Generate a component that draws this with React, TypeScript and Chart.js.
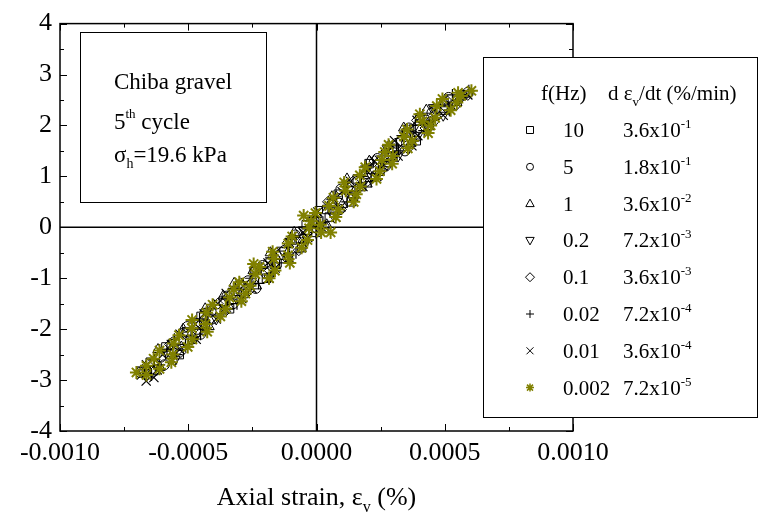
import React, { useEffect, useRef } from 'react';
import { Chart, registerables } from 'chart.js';
Chart.register(...registerables);

const FONT = '"Liberation Serif", "Times New Roman", serif';

// ---------- axes ----------
const X_MIN = -0.001;
const X_MAX = 0.001;
const X_STEP = 0.0005;
const Y_MIN = -4;
const Y_MAX = 4;
const Y_STEP = 1;

// ---------- legend text ----------
const freqLabels = ['10', '5', '1', '0.2', '0.1', '0.02', '0.01', '0.002'];
const rateMantissa = ['3.6', '1.8', '3.6', '7.2', '3.6', '7.2', '3.6', '7.2'];
const rateExponent = ['-1', '-1', '-2', '-3', '-3', '-4', '-4', '-5'];

// ---------- data: axial strain (%) and stress values ----------
const x10 = [-6.31e-4, -5.35e-4, -4.84e-4, -4.33e-4, -3.39e-4, -2.82e-4, -1.95e-4, -1.54e-4, -0.58e-4, -0.02e-4, 0.5e-4, 1.35e-4, 1.76e-4, 2.47e-4, 2.98e-4, 3.89e-4, 4.4e-4, 4.98e-4, 5.7e-4,
  4.97e-4, 4.03e-4, 3.5e-4, 3.01e-4, 2.05e-4, 1.59e-4, 0.85e-4, 0.4e-4, -0.4e-4, -0.95e-4, -1.41e-4, -2.42e-4, -2.99e-4, -3.63e-4, -4.5e-4, -5.06e-4, -5.87e-4, -6.48e-4];
const y10 = [-2.8, -2.5, -2.2, -1.9, -1.6, -1.3, -1.0, -0.7, -0.4, -0.1, 0.2, 0.5, 0.8, 1.1, 1.4, 1.7, 2.0, 2.3, 2.6,
  2.45, 2.15, 1.85, 1.55, 1.25, 0.95, 0.65, 0.35, 0.05, -0.25, -0.55, -0.85, -1.15, -1.45, -1.75, -2.05, -2.35, -2.65];

const x5 = [-5.93e-4, -5.43e-4, -4.52e-4, -4.06e-4, -3.25e-4, -2.37e-4, -1.98e-4, -1.12e-4, -0.51e-4, 0.3e-4, 0.65e-4, 1.45e-4, 1.93e-4, 2.69e-4, 3.45e-4, 3.8e-4, 4.57e-4, 5.39e-4, 5.9e-4,
  5.15e-4, 4.5e-4, 3.6e-4, 3.13e-4, 2.37e-4, 1.96e-4, 0.95e-4, 0.6e-4, -0.1e-4, -0.83e-4, -1.24e-4, -2.1e-4, -2.67e-4, -3.49e-4, -4.11e-4, -5.04e-4, -5.55e-4, -6.07e-4, -6.87e-4];
const y5 = [-2.7, -2.4, -2.1, -1.8, -1.5, -1.2, -0.9, -0.6, -0.3, 0.0, 0.3, 0.6, 0.9, 1.2, 1.5, 1.8, 2.1, 2.4, 2.65,
  2.55, 2.25, 1.95, 1.65, 1.35, 1.05, 0.75, 0.45, 0.15, -0.15, -0.45, -0.75, -1.05, -1.35, -1.65, -1.95, -2.25, -2.55, -2.85];

const x1 = [-6.1e-4, -5.27e-4, -4.19e-4, -3.42e-4, -2.34e-4, -1.6e-4, -0.57e-4, 0.4e-4, 1.0e-4, 1.97e-4, 2.75e-4, 3.68e-4, 4.36e-4, 5.47e-4,
  4.28e-4, 3.4e-4, 2.82e-4, 2.06e-4, 1.19e-4, 0.6e-4, 0.0e-4, -0.87e-4, -1.8e-4, -2.47e-4, -3.21e-4, -3.64e-4, -4.34e-4, -5.2e-4, -6.18e-4];
const y1 = [-2.75, -2.35, -1.95, -1.55, -1.15, -0.75, -0.35, 0.05, 0.45, 0.85, 1.25, 1.65, 2.05, 2.45,
  2.3, 1.95, 1.6, 1.3, 0.95, 0.6, 0.25, -0.1, -0.5, -0.85, -1.1, -1.35, -1.6, -2.0, -2.4];

const x02 = [-5.52e-4, -4.89e-4, -3.91e-4, -3.11e-4, -1.85e-4, -1.12e-4, -0.39e-4, 0.7e-4, 1.4e-4, 2.15e-4, 3.18e-4, 3.95e-4, 4.94e-4, 5.65e-4,
  4.56e-4, 3.8e-4, 2.76e-4, 1.98e-4, 1.25e-4, 0.15e-4, -0.51e-4, -1.34e-4, -2.37e-4, -3.15e-4, -4.26e-4, -5.11e-4, -5.84e-4, -6.81e-4];
const y02 = [-2.6, -2.2, -1.8, -1.4, -1.0, -0.6, -0.2, 0.2, 0.6, 1.0, 1.4, 1.8, 2.2, 2.55,
  2.35, 1.95, 1.55, 1.15, 0.75, 0.35, -0.05, -0.45, -0.85, -1.25, -1.65, -2.05, -2.45, -2.8];

const x01 = [-6.37e-4, -5.29e-4, -4.61e-4, -3.56e-4, -2.65e-4, -1.82e-4, -0.69e-4, 0.04e-4, 0.95e-4, 1.6e-4, 2.58e-4, 3.56e-4, 4.25e-4, 5.06e-4, 5.9e-4,
  5.05e-4, 3.92e-4, 3.29e-4, 2.26e-4, 1.43e-4, 0.45e-4, -0.1e-4, -1.11e-4, -1.89e-4, -2.96e-4, -3.85e-4, -4.63e-4, -5.71e-4, -6.58e-4];
const y01 = [-2.85, -2.45, -2.05, -1.65, -1.25, -0.85, -0.45, -0.05, 0.35, 0.75, 1.15, 1.55, 1.95, 2.35, 2.6,
  2.5, 2.1, 1.7, 1.3, 0.9, 0.5, 0.1, -0.3, -0.7, -1.1, -1.5, -1.9, -2.3, -2.7];

const x002 = [-6.43e-4, -6.13e-4, -5.45e-4, -5.11e-4, -4.52e-4, -4.28e-4, -3.73e-4, -3.1e-4, -2.92e-4, -2.26e-4, -1.73e-4, -1.44e-4, -0.8e-4, -0.51e-4, -0.02e-4, 0.25e-4, 0.85e-4, 1.2e-4, 1.5e-4, 2.13e-4, 2.42e-4, 2.91e-4, 3.2e-4, 3.84e-4, 4.2e-4, 4.52e-4, 5.18e-4, 5.55e-4, 5.94e-4,
  5.3e-4, 4.84e-4, 4.14e-4, 3.85e-4, 3.35e-4, 3.12e-4, 2.53e-4, 1.94e-4, 1.75e-4, 1.21e-4, 0.75e-4, 0.45e-4, -0.1e-4, -0.3e-4, -0.84e-4, -1.13e-4, -1.77e-4, -2.16e-4, -2.55e-4, -3.22e-4, -3.51e-4, -4.14e-4, -4.56e-4, -4.85e-4, -5.54e-4, -5.83e-4, -6.32e-4, -6.71e-4];
const y002 = [-2.9, -2.7, -2.5, -2.3, -2.1, -1.9, -1.7, -1.5, -1.3, -1.1, -0.9, -0.7, -0.5, -0.3, -0.1, 0.1, 0.3, 0.5, 0.7, 0.9, 1.1, 1.3, 1.5, 1.7, 1.9, 2.1, 2.3, 2.5, 2.68,
  2.6, 2.4, 2.2, 2.0, 1.8, 1.6, 1.4, 1.2, 1.0, 0.8, 0.6, 0.4, 0.2, 0.0, -0.2, -0.4, -0.6, -0.8, -1.0, -1.2, -1.4, -1.6, -1.8, -2.0, -2.2, -2.4, -2.6, -2.8];

const x001 = [-6.64e-4, -6.34e-4, -6.21e-4, -5.62e-4, -5.33e-4, -4.69e-4, -4.4e-4, -3.91e-4, -3.59e-4, -2.91e-4, -2.52e-4, -1.85e-4, -1.61e-4, -1.07e-4, -0.58e-4, -0.34e-4, 0.2e-4, 0.75e-4, 0.95e-4, 1.45e-4, 1.81e-4, 2.35e-4, 2.59e-4, 3.18e-4, 3.72e-4, 3.95e-4, 4.4e-4, 4.94e-4, 5.24e-4, 5.9e-4,
  4.95e-4, 4.58e-4, 3.92e-4, 3.6e-4, 3.04e-4, 2.8e-4, 2.26e-4, 1.97e-4, 1.33e-4, 1.0e-4, 0.65e-4, 0.05e-4, -0.25e-4, -0.52e-4, -1.06e-4, -1.6e-4, -1.89e-4, -2.43e-4, -2.76e-4, -3.52e-4, -3.85e-4, -4.38e-4, -4.73e-4, -5.32e-4, -5.66e-4, -6.0e-4, -6.63e-4, -6.83e-4];
const y001 = [-3.02, -2.95, -2.8, -2.6, -2.4, -2.2, -2.0, -1.8, -1.6, -1.4, -1.2, -1.0, -0.8, -0.6, -0.4, -0.2, 0.0, 0.2, 0.4, 0.6, 0.8, 1.0, 1.2, 1.4, 1.6, 1.8, 2.0, 2.2, 2.4, 2.6,
  2.5, 2.3, 2.1, 1.9, 1.7, 1.5, 1.3, 1.1, 0.9, 0.7, 0.5, 0.3, 0.1, -0.1, -0.3, -0.5, -0.7, -0.9, -1.1, -1.3, -1.5, -1.7, -1.9, -2.1, -2.3, -2.5, -2.7, -2.9];

const x0002 = [-6.63e-4, -6.12e-4, -5.66e-4, -5.6e-4, -5.02e-4, -4.84e-4, -4.26e-4, -4.33e-4, -3.75e-4, -3.54e-4, -2.93e-4, -2.77e-4, -2.59e-4, -1.85e-4, -1.62e-4, -1.04e-4, -1.11e-4, -0.58e-4, -0.35e-4, 0.18e-4, 0.15e-4, 0.75e-4, 0.85e-4, 1.45e-4, 1.55e-4, 1.71e-4, 2.34e-4, 2.47e-4, 2.95e-4, 2.98e-4, 3.56e-4, 3.74e-4, 4.35e-4, 4.45e-4, 4.63e-4, 5.23e-4, 5.47e-4, 5.64e-4, 6.04e-4,
  5.52e-4, 4.91e-4, 4.69e-4, 4.03e-4, 4.13e-4, 3.53e-4, 3.41e-4, 2.81e-4, 2.66e-4, 2.55e-4, 1.9e-4, 1.69e-4, 1.08e-4, 1.14e-4, 0.66e-4, 0.49e-4, -0.04e-4, -0.21e-4, -0.29e-4, -0.95e-4, -1.1e-4, -1.71e-4, -1.66e-4, -2.22e-4, -2.38e-4, -3.01e-4, -3.23e-4, -3.39e-4, -4.05e-4, -4.29e-4, -4.85e-4, -4.86e-4, -5.36e-4, -5.57e-4, -6.12e-4, -6.35e-4, -6.63e-4, -7.02e-4,
  -0.5e-4, 0.55e-4, -2.45e-4];
const y0002 = [-2.9, -2.78, -2.65, -2.5, -2.35, -2.2, -2.05, -1.9, -1.75, -1.6, -1.45, -1.3, -1.15, -1.0, -0.85, -0.7, -0.55, -0.4, -0.25, -0.1, 0.05, 0.2, 0.35, 0.5, 0.65, 0.8, 0.95, 1.1, 1.25, 1.4, 1.55, 1.7, 1.85, 2.0, 2.15, 2.3, 2.45, 2.58, 2.68,
  2.64, 2.52, 2.38, 2.22, 2.08, 1.92, 1.78, 1.62, 1.48, 1.32, 1.18, 1.02, 0.88, 0.72, 0.58, 0.42, 0.28, 0.12, -0.02, -0.18, -0.32, -0.48, -0.62, -0.78, -0.92, -1.08, -1.22, -1.38, -1.52, -1.68, -1.82, -1.98, -2.12, -2.28, -2.42, -2.58, -2.72, -2.85,
  0.23, -0.1, -0.72];

const seriesX = [x10, x5, x1, x02, x01, x002, x001, x0002];
const seriesY = [y10, y5, y1, y02, y01, y002, y001, y0002];

// ---------- styles ----------
const OLIVE = '#808000';
const pointStyles = ['rect', 'circle', 'triangle', 'triangle', 'rectRot', 'cross', 'crossRot', 'star'];
const pointRotations = [0, 0, 0, 180, 0, 0, 0, 0];
const pointRadii = [6, 5, 6, 6, 5.5, 6, 6.5, 6.5];
const pointWidths = [1, 1, 1, 1, 1, 1.2, 1.2, 2];
const pointColors = ['#000', '#000', '#000', '#000', '#000', '#000', '#000', OLIVE];
const legendMarkers = ['square', 'circle', 'tri', 'tridown', 'diamond', 'plus', 'x', 'star'];

function drawMarker(ctx: CanvasRenderingContext2D, kind: string, x: number, y: number, color: string) {
  ctx.save();
  ctx.strokeStyle = color;
  ctx.lineWidth = 1;
  ctx.beginPath();
  const r = 3.5;
  switch (kind) {
    case 'square':
      ctx.rect(x - r, y - r, 2 * r, 2 * r);
      break;
    case 'circle':
      ctx.arc(x, y, r, 0, Math.PI * 2);
      break;
    case 'tri':
      ctx.moveTo(x, y - 4.5); ctx.lineTo(x + 4.2, y + 3); ctx.lineTo(x - 4.2, y + 3); ctx.closePath();
      break;
    case 'tridown':
      ctx.moveTo(x, y + 4.5); ctx.lineTo(x + 4.2, y - 3); ctx.lineTo(x - 4.2, y - 3); ctx.closePath();
      break;
    case 'diamond':
      ctx.moveTo(x, y - 4.5); ctx.lineTo(x + 4.5, y); ctx.lineTo(x, y + 4.5); ctx.lineTo(x - 4.5, y); ctx.closePath();
      break;
    case 'plus':
      ctx.moveTo(x - 4, y); ctx.lineTo(x + 4, y); ctx.moveTo(x, y - 4); ctx.lineTo(x, y + 4);
      break;
    case 'x':
      ctx.moveTo(x - r, y - r); ctx.lineTo(x + r, y + r); ctx.moveTo(x + r, y - r); ctx.lineTo(x - r, y + r);
      break;
    case 'star':
      ctx.moveTo(x - 4, y); ctx.lineTo(x + 4, y); ctx.moveTo(x, y - 4); ctx.lineTo(x, y + 4);
      ctx.moveTo(x - 3, y - 3); ctx.lineTo(x + 3, y + 3); ctx.moveTo(x + 3, y - 3); ctx.lineTo(x - 3, y + 3);
      ctx.lineWidth = 1.5;
      break;
  }
  ctx.stroke();
  ctx.restore();
}

type Piece = { t: string; size: number; dy?: number };
function drawPieces(ctx: CanvasRenderingContext2D, pieces: Piece[], x: number, baseline: number, align: 'left' | 'center' = 'left') {
  ctx.save();
  ctx.fillStyle = '#000';
  ctx.textBaseline = 'alphabetic';
  ctx.textAlign = 'left';
  let total = 0;
  for (const p of pieces) { ctx.font = `${p.size}px ${FONT}`; total += ctx.measureText(p.t).width; }
  let cx = align === 'center' ? x - total / 2 : x;
  for (const p of pieces) {
    ctx.font = `${p.size}px ${FONT}`;
    ctx.fillText(p.t, cx, baseline + (p.dy || 0));
    cx += ctx.measureText(p.t).width;
  }
  ctx.restore();
}

const overlayPlugin = {
  id: 'overlay',
  beforeDatasetsDraw(chart: any) {
    const { ctx, chartArea: a, scales } = chart;
    const x0 = scales.x.getPixelForValue(0);
    const y0 = scales.y.getPixelForValue(0);
    ctx.save();
    ctx.strokeStyle = '#000';
    ctx.lineWidth = 1.5;
    ctx.beginPath();
    ctx.moveTo(x0, a.top); ctx.lineTo(x0, a.bottom);
    ctx.moveTo(a.left, y0); ctx.lineTo(a.right, y0);
    ctx.stroke();
    ctx.restore();
  },
  afterDatasetsDraw(chart: any) {
    const { ctx, chartArea: a, scales } = chart;
    const xs = scales.x, ys = scales.y;
    ctx.save();
    ctx.strokeStyle = '#000';
    ctx.lineWidth = 1.5;
    ctx.strokeRect(a.left, a.top, a.right - a.left, a.bottom - a.top);
    const xv: number[] = xs.ticks.map((t: any) => t.value);
    const yv: number[] = ys.ticks.map((t: any) => t.value);
    ctx.lineWidth = 1;
    ctx.beginPath();
    const xticks: [number, number][] = [];
    xv.forEach((v, i) => {
      xticks.push([v, 7]);
      if (i < xv.length - 1) xticks.push([(v + xv[i + 1]) / 2, 4]);
    });
    xticks.forEach(([v, len]) => {
      const px = Math.round(xs.getPixelForValue(v)) + 0.5;
      ctx.moveTo(px, a.bottom); ctx.lineTo(px, a.bottom - len);
      ctx.moveTo(px, a.top); ctx.lineTo(px, a.top + len);
    });
    const yticks: [number, number][] = [];
    yv.forEach((v, i) => {
      yticks.push([v, 7]);
      if (i < yv.length - 1) yticks.push([(v + yv[i + 1]) / 2, 4]);
    });
    yticks.forEach(([v, len]) => {
      const py = Math.round(ys.getPixelForValue(v)) + 0.5;
      ctx.moveTo(a.left, py); ctx.lineTo(a.left + len, py);
      ctx.moveTo(a.right, py); ctx.lineTo(a.right - len, py);
    });
    ctx.stroke();

    // annotation box
    ctx.fillStyle = '#fff';
    ctx.fillRect(80, 32, 186, 170);
    ctx.strokeStyle = '#000';
    ctx.lineWidth = 1;
    ctx.strokeRect(80.5, 32.5, 186, 170);
    drawPieces(ctx, [{ t: 'Chiba gravel', size: 23 }], 114, 89);
    drawPieces(ctx, [{ t: '5', size: 23 }, { t: 'th', size: 13, dy: -11 }, { t: ' cycle', size: 23 }], 114, 129);
    drawPieces(ctx, [{ t: 'σ', size: 23 }, { t: 'h', size: 14, dy: 6 }, { t: '=19.6 kPa', size: 23 }], 114, 162);

    // legend box
    ctx.fillStyle = '#fff';
    ctx.fillRect(483, 57, 274, 360);
    ctx.strokeRect(483.5, 57.5, 274, 360);
    drawPieces(ctx, [{ t: 'f(Hz)', size: 21 }], 541, 100);
    drawPieces(ctx, [{ t: 'd ε', size: 21 }, { t: 'v', size: 13, dy: 6 }, { t: '/dt (%/min)', size: 21 }], 608, 100);
    for (let i = 0; i < freqLabels.length; i++) {
      const base = 137 + i * 36.8;
      drawMarker(ctx, legendMarkers[i], 530, base - 7, pointColors[i]);
      drawPieces(ctx, [{ t: freqLabels[i], size: 21 }], 563, base);
      drawPieces(ctx, [{ t: rateMantissa[i] + 'x10', size: 21 }, { t: rateExponent[i], size: 13, dy: -9 }], 623, base);
    }

    // x axis title
    drawPieces(ctx, [{ t: 'Axial strain, ε', size: 26 }, { t: 'v', size: 16, dy: 7 }, { t: ' (%)', size: 26 }], (a.left + a.right) / 2, 505, 'center');
    ctx.restore();
  },
};

export default function App() {
  const ref = useRef<HTMLCanvasElement>(null);
  useEffect(() => {
    document.body.style.margin = '0';
    const datasets = seriesX.map((xsArr, i) => ({
      label: freqLabels[i] + ' Hz',
      data: xsArr.map((xv, j) => ({ x: xv, y: seriesY[i][j] })),
      showLine: false,
      pointStyle: pointStyles[i] as any,
      rotation: pointRotations[i],
      pointRadius: pointRadii[i],
      pointBorderColor: pointColors[i],
      pointBackgroundColor: 'rgba(0,0,0,0)',
      pointBorderWidth: pointWidths[i],
      borderColor: pointColors[i],
      order: i === 7 ? -1 : 0,
    }));
    const chart = new Chart(ref.current as HTMLCanvasElement, {
      type: 'scatter',
      data: { datasets },
      plugins: [overlayPlugin],
      options: {
        animation: false,
        responsive: false,
        devicePixelRatio: 1,
        layout: { padding: { top: 20, right: 187, left: 0, bottom: 0 } },
        plugins: { legend: { display: false }, tooltip: { enabled: false } },
        scales: {
          x: {
            type: 'linear',
            min: X_MIN,
            max: X_MAX,
            grid: { display: false, drawTicks: false },
            border: { display: false },
            ticks: {
              stepSize: X_STEP,
              color: '#000',
              padding: 7,
              font: { family: FONT, size: 26 },
              callback: (v: any) => (Math.abs(Number(v)) < 1e-12 ? '0.0000' : Number(v).toFixed(4)),
            },
            afterFit: (s: any) => { s.height = 81; },
          },
          y: {
            type: 'linear',
            min: Y_MIN,
            max: Y_MAX,
            grid: { display: false, drawTicks: false },
            border: { display: false },
            ticks: {
              stepSize: Y_STEP,
              color: '#000',
              padding: 8,
              font: { family: FONT, size: 26 },
            },
            afterFit: (s: any) => { s.width = 60; },
          },
        },
      },
    });
    return () => chart.destroy();
  }, []);
  return (
    <div style={{ position: 'absolute', left: 0, top: 0, width: 760, height: 512, background: '#fff' }}>
      <canvas ref={ref} width={760} height={512} style={{ width: 760, height: 512, display: 'block' }} />
    </div>
  );
}
